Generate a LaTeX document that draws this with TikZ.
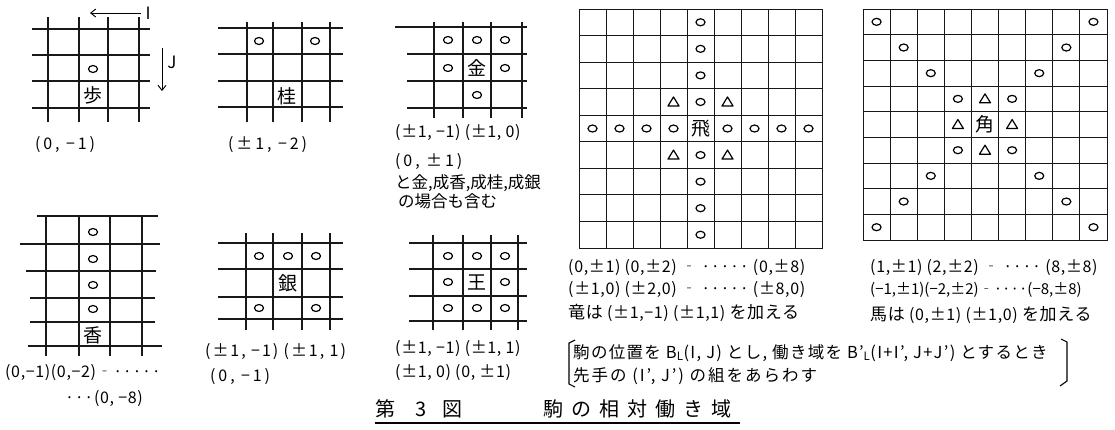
\documentclass[tikz,border=0pt]{standalone}
\usepackage{fontspec}
\setmainfont{Noto Sans CJK JP}
\usetikzlibrary{arrows.meta}
\newcommand\mkc[2]{\draw[mk] ({#1},{#2}) ellipse (4.5 and 3.5);}
\newcommand\mktri[2]{\draw[mk,line join=round] ({#1-5.5},{#2+4}) -- ({#1+5.5},{#2+4}) -- ({#1},{#2-5}) -- cycle;}
\newcommand\jp[1]{{\fontsize{17}{19}\selectfont #1}}
\begin{document}
\begin{tikzpicture}[x=1pt,y=-1pt,
 gl/.style={line width=1.5pt, black!90},
 bl/.style={line width=1pt, black!90},
 mk/.style={line width=1.2pt},
 lbl/.style={font=\fontsize{16}{18}\selectfont\addfontfeature{LetterSpace=4}, inner sep=0pt, anchor=west},
 wlbl/.style={font=\fontsize{16}{18}\selectfont\addfontfeature{LetterSpace=18}, inner sep=0pt, anchor=west},
 jlbl/.style={font=\fontsize{16.5}{18}\selectfont, inner sep=0pt, anchor=west},
 pc/.style={font=\fontsize{19}{19}\selectfont, inner sep=0pt},
 arr/.style={-{Straight Barb[length=5pt,width=8pt]}, line width=0.9pt},
]
\useasboundingbox (0,0) rectangle (1115,429);
% ---------- 歩
\foreach \y in {29,55,81,108} \draw[gl] (32,\y) -- (150,\y);
\foreach \x in {48,79,108,139} \draw[gl] (\x,17) -- (\x,122);
\mkc{93}{69}
\node[pc] (fu) at (93,95) {歩};
\node[wlbl] (lfu) at (35,145) {(0, −1)};
\node[font=\fontsize{17}{18}\selectfont\rmfamily, inner sep=0pt] (I) at (148,13) {I};
\coordinate (Ie) at (90,13);
\draw[arr] (I.west) ++(-4,0) -- (Ie);
\node[font=\fontsize{17}{18}\selectfont\rmfamily, inner sep=0pt] (J) at (172,62) {J};
\coordinate (Js) at (162,48); \coordinate (Je) at (162,91);
\draw[arr] (Js) -- (Je);
% ---------- 桂
\foreach \y in {28,54,81,107} \draw[gl] (218,\y) -- (343,\y);
\foreach \x in {247,273,302,330} \draw[gl] (\x,22) -- (\x,122);
\mkc{259}{41} \mkc{315}{41}
\node[pc] (kei) at (287,96) {桂};
\node[wlbl] (lkei) at (228,145) {(±1, −2)};
% ---------- 金
\draw[gl] (395,27) -- (527,27);
\foreach \y in {54,81,108} \draw[gl] (407,\y) -- (527,\y);
\foreach \x in {434,463,491,522} \draw[gl] (\x,22) -- (\x,118);
\mkc{448}{40} \mkc{477}{40} \mkc{505}{40}
\mkc{448}{68} \mkc{505}{68} \mkc{477}{95}
\node[pc] (kin) at (477,68) {金};
\node[lbl] (lkin1) at (395,133) {(±1, −1)\ (±1, 0)};
\node[wlbl] (lkin2) at (395,162) {(0, ±1)};
\node[jlbl] (lkin3) at (395,183) {と金,成香,成桂,成銀};
\node[jlbl] (lkin4) at (398,201) {の場合も含む};
% ---------- 香
\draw[gl] (37,216) -- (158,216);
\draw[gl] (20,244) -- (160,244);
\draw[gl] (26,271) -- (156,271);
\draw[gl] (30,298) -- (155,298);
\draw[gl] (30,322) -- (155,322);
\draw[gl] (28,346) -- (162,346);
\foreach \x in {46,79,110,142} \draw[gl] (\x,216) -- (\x,356);
\mkc{93}{232} \mkc{93}{259} \mkc{93}{285} \mkc{93}{309}
\node[pc] (kyo) at (93,335) {香};
\node[lbl] (lkyo1) at (5,373) {(0,−1)(0,−2)‐·····};
\node[lbl] (lkyo2) at (65,399) {···(0, −8)};
% ---------- 銀
\foreach \y in {243,269,297,319} \draw[gl] (218,\y) -- (343,\y);
\foreach \x in {246,273,302,330} \draw[gl] (\x,233) -- (\x,330);
\mkc{259}{256} \mkc{288}{256} \mkc{316}{256}
\mkc{259}{308} \mkc{316}{308}
\node[pc] (gin) at (288,283) {銀};
\node[wlbl, font=\fontsize{16}{18}\selectfont\addfontfeature{LetterSpace=12}] (lgin1) at (205,352) {(±1, −1) (±1, 1)};
\node[wlbl] (lgin2) at (210,377) {(0, −1)};
% ---------- 王
\foreach \y in {243,269,296,321} \draw[gl] (409,\y) -- (527,\y);
\foreach \x in {433,463,491,518} \draw[gl] (\x,235) -- (\x,330);
\foreach \x in {448,477,505} {\mkc{\x}{256} \mkc{\x}{308}}
\mkc{448}{282} \mkc{505}{282}
\node[pc] (ou) at (477,282) {王};
\node[lbl] (lou1) at (395,349) {(±1, −1) (±1, 1)};
\node[lbl] (lou2) at (395,373) {(±1, 0)\ (0, ±1)};
% ---------- 飛
\draw[bl] (579,9) rectangle (822,248);
\foreach \k in {1,...,8} {
  \draw[bl] ({579+27*\k},9) -- ({579+27*\k},248);
  \draw[bl] (579,{9+26.56*\k}) -- (822,{9+26.56*\k});
}
\foreach \r in {1,2,3,4,6,7,8,9} {\mkc{579+27*4.5}{9+26.56*(\r-0.5)}}
\foreach \c in {1,2,3,4,6,7,8,9} {\mkc{579+27*(\c-0.5)}{9+26.56*4.5}}
\mktri{579+27*3.5}{9+26.56*3.5} \mktri{579+27*5.5}{9+26.56*3.5}
\mktri{579+27*3.5}{9+26.56*5.5} \mktri{579+27*5.5}{9+26.56*5.5}
\node[pc] (hi) at ({579+27*4.5},{9+26.56*4.5}) {飛};
\node[lbl] (lhi1) at (568,268) {(0,±1) (0,±2) ‐ ····· (0,±8)};
\node[lbl] (lhi2) at (568,290) {(±1,0) (±2,0) ‐ ····· (±8,0)};
\node[lbl] (lhi3) at (568,313) {\jp{竜は} (±1,−1) (±1,1) \jp{を加える}};
% ---------- 角
\draw[bl] (863,9) rectangle (1107,240);
\foreach \k in {1,...,8} {
  \draw[bl] ({863+27.11*\k},9) -- ({863+27.11*\k},240);
  \draw[bl] (863,{9+25.67*\k}) -- (1107,{9+25.67*\k});
}
\foreach \k in {1,2,3,4,6,7,8,9} {
  \mkc{863+27.11*(\k-0.5)}{9+25.67*(\k-0.5)}
  \mkc{863+27.11*(9.5-\k)}{9+25.67*(\k-0.5)}
}
\mktri{863+27.11*4.5}{9+25.67*3.5} \mktri{863+27.11*4.5}{9+25.67*5.5}
\mktri{863+27.11*3.5}{9+25.67*4.5} \mktri{863+27.11*5.5}{9+25.67*4.5}
\node[pc] (kaku) at ({863+27.11*4.5},{9+25.67*4.5}) {角};
\node[lbl] (lka1) at (870,268) {(1,±1) (2,±2) ‐ ···· (8,±8)};
\node[lbl, font=\fontsize{15}{17}\selectfont] (lka2) at (870,290) {(−1,±1)(−2,±2)‐····(−8,±8)};
\node[lbl] (lka3) at (870,315) {\jp{馬は} (0,±1) (±1,0) \jp{を加える}};
% ---------- bracket note
\draw[line width=1.1pt] (575,340) -- (569,343) -- (569,384) -- (575,387);
\draw[line width=1.1pt] (1061,339) -- (1067,342) -- (1067,381) -- (1060,386);
\node[jlbl, font=\fontsize{16.5}{18}\selectfont\addfontfeature{LetterSpace=8}] (n1) at (573,353) {駒の位置を B\textsubscript{L}(I, J) とし, 働き域を B'\textsubscript{L}(I+I', J+J') とするとき};
\node[jlbl, font=\fontsize{16.5}{18}\selectfont\addfontfeature{LetterSpace=12}] (n2) at (573,376) {先手の (I', J') の組をあらわす};
% ---------- title
\node[font=\fontsize{20}{22}\selectfont, inner sep=0pt, anchor=west] (t1) at (375,409) {第\hspace{20pt}3\hspace{16pt}図};
\node[font=\fontsize{20}{22}\selectfont\addfontfeature{LetterSpace=40}, inner sep=0pt, anchor=west] (t2) at (543,409) {駒の相対働き域};
\draw[line width=1.2pt] (375,423) -- (740,423);
\end{tikzpicture}
\end{document}
